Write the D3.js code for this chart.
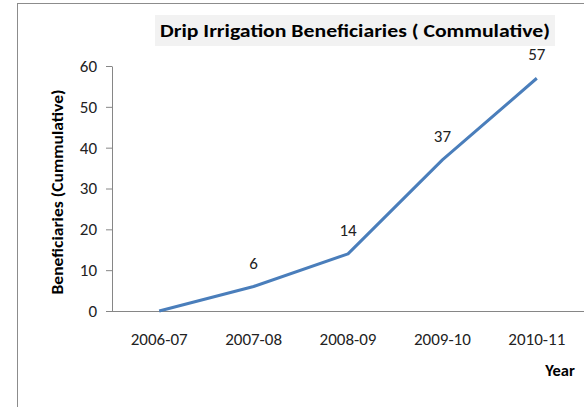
<!DOCTYPE html>
<html><head><meta charset="utf-8">
<script src="https://cdn.jsdelivr.net/npm/d3@7"></script>
<style>html,body{margin:0;padding:0;background:#fff;}svg{display:block;}</style>
</head><body>
<script>
const categories = ["2006-07","2007-08","2008-09","2009-10","2010-11"];
const values = [0, 6, 14, 37, 57];
const labels = [null, "6", "14", "37", "57"];
const yTicks = [0,10,20,30,40,50,60];
const title = "Drip Irrigation Beneficiaries ( Commulative)";
const yTitle = "Beneficiaries (Cummulative)";
const xTitle = "Year";

const W = 584, H = 407;
const svg = d3.select("body").append("svg").attr("width", W).attr("height", H);
const font = "Carlito, 'Open Sans', 'Liberation Sans', sans-serif";
const txt = "#222";

// chart border
svg.append("rect").attr("x", 17.5).attr("y", 3.5).attr("width", 600).attr("height", 450)
  .attr("fill", "#fff").attr("stroke", "#8c8c8c").attr("stroke-width", 1);

const x = d3.scaleBand().domain(categories).range([112, 584]);
const y = d3.scaleLinear().domain([0, 60]).range([311, 66]);
const cx = c => x(c) + x.bandwidth() / 2;

// title
const tg = svg.append("g");
tg.append("rect").attr("x", 155).attr("y", 15).attr("width", 400).attr("height", 31).attr("fill", "#f2f2f2");
tg.append("text").attr("x", 355).attr("y", 37).attr("text-anchor", "middle")
  .attr("font-family", font).attr("font-weight", "bold").attr("font-size", 18.5)
  .attr("fill", "#000").attr("textLength", 390).attr("lengthAdjust", "spacingAndGlyphs").text(title);

// y axis
const ya = svg.append("g").attr("transform", "translate(112,0)")
  .call(d3.axisLeft(y).tickValues(yTicks).tickSize(6).tickSizeOuter(0).tickPadding(9));
ya.select(".domain").attr("stroke", "#868686");
ya.selectAll(".tick line").attr("stroke", "#868686");
ya.selectAll(".tick text").attr("font-family", font).attr("font-size", 17).attr("fill", txt);

// x axis
const xa = svg.append("g").attr("transform", "translate(0,311)")
  .call(d3.axisBottom(x).tickSize(0).tickPadding(22));
xa.select(".domain").attr("stroke", "#868686").attr("d", "M106,0.5H584");
xa.selectAll(".tick text").attr("font-family", font).attr("font-size", 17).attr("fill", txt);

// line
const line = d3.line().x((d, i) => cx(categories[i])).y(d => y(d));
svg.append("path").datum(values).attr("d", line).attr("fill", "none")
  .attr("stroke", "#4a7ebb").attr("stroke-width", 3).attr("stroke-linejoin", "round");

// data labels
const lblData = categories.map((c, i) => ({c, v: values[i], t: labels[i]})).filter(d => d.t !== null);
svg.selectAll(".dl").data(lblData).enter().append("text")
  .attr("x", d => cx(d.c))
  .attr("y", d => y(d.v) - 18)
  .attr("text-anchor", "middle").attr("font-family", font).attr("font-size", 17).attr("fill", txt)
  .text(d => d.t);

// axis titles
svg.append("text").attr("transform", "translate(63,192) rotate(-90)").attr("text-anchor", "middle")
  .attr("font-family", font).attr("font-weight", "bold").attr("font-size", 16).attr("fill", "#000")
  .attr("textLength", 205).attr("lengthAdjust", "spacingAndGlyphs").text(yTitle);
svg.append("text").attr("x", 560).attr("y", 376).attr("text-anchor", "middle")
  .attr("font-family", font).attr("font-weight", "bold").attr("font-size", 16.5).attr("fill", "#000").text(xTitle);
</script>
</body></html>
